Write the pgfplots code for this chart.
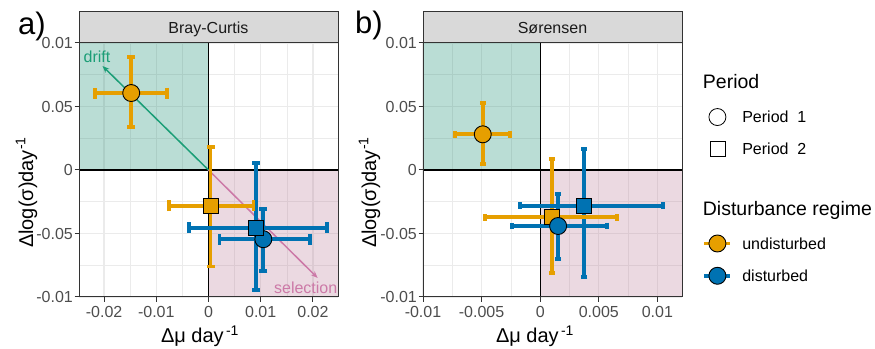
\documentclass[border=0pt]{standalone}
\usepackage{pgfplots}
\usepackage{pgfplotstable}
\pgfplotsset{compat=1.18}
\usepackage{fontspec}
\setmainfont{Liberation Sans}
\usetikzlibrary{arrows.meta}
\definecolor{colU}{HTML}{E69F00}
\definecolor{colD}{HTML}{0072B2}
\definecolor{driftc}{HTML}{1B9E77}
\definecolor{selc}{HTML}{CC79A7}
\definecolor{tealbase}{RGB}{28,142,115}
\definecolor{pinkbase}{RGB}{188,128,155}
\definecolor{gridc}{HTML}{EBEBEB}
\definecolor{borderc}{HTML}{333333}
\definecolor{tickc}{HTML}{4D4D4D}
\definecolor{stripc}{HTML}{D9D9D9}
\definecolor{stript}{HTML}{1A1A1A}
\newcommand\fs[1]{\fontsize{#1}{#1}\selectfont}

% panel a: Bray-Curtis (row 0 = Period 1, row 1 = Period 2)
\pgfplotstableread{
x y xp xm yp ym
-0.0148 0.0606 0.0069 0.0070 0.0284 0.0266
0.0004 -0.0281 0.0082 0.0079 0.0465 0.0479
}\aU
\pgfplotstableread{
x y xp xm yp ym
0.0105 -0.0545 0.0089 0.0084 0.0235 0.0248
0.0091 -0.0454 0.0136 0.0129 0.0507 0.0491
}\aD
% panel b: Sorensen
\pgfplotstableread{
x y xp xm yp ym
-0.0049 0.0281 0.00235 0.0024 0.0249 0.0234
0.0010 -0.0373 0.00552 0.00568 0.0457 0.0435
}\bU
\pgfplotstableread{
x y xp xm yp ym
0.00153 -0.0441 0.0042 0.00397 0.0252 0.0257
0.00377 -0.0281 0.00672 0.00547 0.0444 0.0559
}\bD

\pgfplotsset{
  panel/.style={
    scale only axis, width=259pt, height=254pt, anchor=south west,
    ymin=-0.1, ymax=0.1,
    ytick={-0.1,-0.05,0,0.05,0.1},
    yticklabels={\mbox{-0.01},\mbox{-0.05},\mbox{0},\mbox{0.05},\mbox{0.01}},
    minor ytick={-0.075,-0.025,0.025,0.075},
    grid=both,
    major grid style={draw=gridc, line width=1.3pt},
    minor grid style={draw=gridc, line width=0.65pt},
    axis line style={draw=borderc, line width=1pt},
    major tick style={draw=borderc, line width=1pt},
    minor tick length=0pt,
    tick align=outside, major tick length=4.5pt,
    tick pos=left,
    xticklabel style={font=\fs{16}, text=tickc, inner sep=0pt, yshift=-4.5pt},
    yticklabel style={font=\fs{16}, text=tickc, inner sep=0pt, xshift=-1.5pt},
    scaled ticks=false,
  },
  ebx/.style 2 args={draw=none, mark=none, forget plot,
    error bars/.cd, x dir=both, x explicit,
    error bar style={draw=#1, line width=3.8pt, solid},
    error mark options={rotate=90, draw=#1, mark size=#2, line width=3.8pt, solid}},
  eby/.style 2 args={draw=none, mark=none, forget plot,
    error bars/.cd, y dir=both, y explicit,
    error bar style={draw=#1, line width=3.8pt, solid},
    error mark options={rotate=90, draw=#1, mark size=#2, line width=3.8pt, solid}},
  ptc/.style={only marks, forget plot, mark=*, mark size=8.5pt, mark options={fill=#1, draw=black, line width=0.9pt}},
  pts/.style={only marks, forget plot, mark=square*, mark size=7.5pt, mark options={fill=#1, draw=black, line width=0.9pt}},
}
\newcommand\legbox{\path[draw=none, fill=none] (0pt,-8.5pt) rectangle (26pt,8.5pt);}

\begin{document}
\begin{tikzpicture}
\useasboundingbox (0,0) rectangle (875pt,348pt);

% ---------------- panel a ----------------
\begin{axis}[panel, at={(79pt,51pt)},
  xmin=-0.0248, xmax=0.0248,
  xtick={-0.02,-0.01,0,0.01,0.02},
  xticklabels={\mbox{-0.02},\mbox{-0.01},\mbox{0},\mbox{0.01},\mbox{0.02}},
  minor xtick={-0.015,-0.005,0.005,0.015}]
\fill[tealbase, fill opacity=0.3] (axis cs:-0.0248,0) rectangle (axis cs:0,0.1);
\fill[pinkbase, fill opacity=0.3] (axis cs:0,-0.1) rectangle (axis cs:0.0248,0);
\draw[black, line width=1.3pt] (axis cs:0,-0.1) -- (axis cs:0,0.1);
\draw[black, line width=1.3pt] (axis cs:-0.0248,0) -- (axis cs:0.0248,0);
\draw[driftc, line width=1.5pt, -{Stealth[length=7pt,width=5.5pt]}] (axis cs:0,0) -- (axis cs:-0.0203,0.0819);
\draw[selc, line width=1.5pt, -{Stealth[length=7pt,width=5.5pt]}] (axis cs:0,0) -- (axis cs:0.0209,-0.085);
\node[anchor=base west, text=driftc, font=\fs{16}, inner sep=0pt] at (axis cs:-0.02395,0.0843) {drift};
\node[anchor=base east, text=selc, font=\fs{16}, inner sep=0pt] at (axis cs:0.0247,-0.0969) {selection};
\addplot[eby={colU}{4pt}] table[x=x, y=y, y error plus=yp, y error minus=ym] {\aU};
\addplot[eby={colD}{4pt}] table[x=x, y=y, y error plus=yp, y error minus=ym] {\aD};
\addplot[ebx={colU}{5.5pt}] table[x=x, y=y, x error plus=xp, x error minus=xm] {\aU};
\addplot[ebx={colD}{5.5pt}] table[x=x, y=y, x error plus=xp, x error minus=xm] {\aD};
\addplot[ptc=colU, skip coords between index={1}{2}] table[x=x, y=y] {\aU};
\addplot[pts=colU, skip coords between index={0}{1}] table[x=x, y=y] {\aU};
\addplot[ptc=colD, skip coords between index={1}{2}] table[x=x, y=y] {\aD};
\addplot[pts=colD, skip coords between index={0}{1}] table[x=x, y=y] {\aD};
\end{axis}

% ---------------- panel b ----------------
\begin{axis}[panel, at={(423pt,51pt)},
  xmin=-0.01, xmax=0.0121,
  xtick={-0.01,-0.005,0,0.005,0.01},
  xticklabels={\mbox{-0.01},\mbox{-0.005},\mbox{0},\mbox{0.005},\mbox{0.01}},
  minor xtick={-0.0075,-0.0025,0.0025,0.0075},
  legend style={draw=none, fill=none, inner sep=0pt, outer sep=0pt,
    at={(axis description cs:1.0792,0.8672)}, anchor=north west,
    /tikz/column sep=10pt, /tikz/row sep=14.4pt,
    nodes={inner sep=0pt, text height=11.5pt, text depth=0pt, font=\fs{16}}},
  legend cell align=left]
\fill[tealbase, fill opacity=0.3] (axis cs:-0.01,0) rectangle (axis cs:0,0.1);
\fill[pinkbase, fill opacity=0.3] (axis cs:0,-0.1) rectangle (axis cs:0.0121,0);
\draw[black, line width=1.3pt] (axis cs:0,-0.1) -- (axis cs:0,0.1);
\draw[black, line width=1.3pt] (axis cs:-0.01,0) -- (axis cs:0.0121,0);
\addplot[eby={colU}{3pt}] table[x=x, y=y, y error plus=yp, y error minus=ym] {\bU};
\addplot[eby={colD}{3pt}] table[x=x, y=y, y error plus=yp, y error minus=ym] {\bD};
\addplot[ebx={colU}{3.3pt}] table[x=x, y=y, x error plus=xp, x error minus=xm] {\bU};
\addplot[ebx={colD}{3.3pt}] table[x=x, y=y, x error plus=xp, x error minus=xm] {\bD};
\addplot[ptc=colU, skip coords between index={1}{2}] table[x=x, y=y] {\bU};
\addplot[pts=colU, skip coords between index={0}{1}] table[x=x, y=y] {\bU};
\addplot[ptc=colD, skip coords between index={1}{2}] table[x=x, y=y] {\bD};
\addplot[pts=colD, skip coords between index={0}{1}] table[x=x, y=y] {\bD};

\addlegendimage{legend image code/.code={\legbox
  \node[overlay, anchor=base west, inner sep=0pt, font=\fs{19.5}, text=black] at (-1.5pt,-3.5pt) {Period};}}
\addlegendentry{}
\addlegendimage{legend image code/.code={\legbox
  \draw[black, line width=0.8pt, fill=none] (13pt,0pt) circle (8.5pt);}}
\addlegendentry{Period\ \ 1}
\addlegendimage{legend image code/.code={\legbox
  \draw[black, line width=0.8pt, fill=none] (5.5pt,-7.5pt) rectangle (20.5pt,7.5pt);}}
\addlegendentry{Period\ \ 2}
\addlegendimage{legend image code/.code={\legbox}}
\addlegendentry{}
\addlegendimage{legend image code/.code={\legbox
  \node[overlay, anchor=base west, inner sep=0pt, font=\fs{19.5}, text=black] at (-1.5pt,-3.5pt) {Disturbance regime};}}
\addlegendentry{}
\addlegendimage{legend image code/.code={\legbox
  \draw[colU, line width=3.8pt] (0pt,0pt) -- (26pt,0pt);
  \filldraw[fill=colU, draw=black, line width=0.9pt] (13pt,0pt) circle (8.5pt);}}
\addlegendentry{undisturbed}
\addlegendimage{legend image code/.code={\legbox
  \draw[colD, line width=3.8pt] (0pt,0pt) -- (26pt,0pt);
  \filldraw[fill=colD, draw=black, line width=0.9pt] (13pt,0pt) circle (8.5pt);}}
\addlegendentry{disturbed}
\end{axis}

% borders and strips
\draw[borderc, line width=1pt] (79pt,51pt) rectangle (338pt,305pt);
\draw[borderc, line width=1pt] (423pt,51pt) rectangle (682pt,305pt);
\draw[borderc, fill=stripc, line width=1pt] (79pt,305pt) rectangle (338pt,336pt);
\draw[borderc, fill=stripc, line width=1pt] (423pt,305pt) rectangle (682pt,336pt);
\node[text=stript, font=\fs{16}, inner sep=0pt, anchor=base] at (208.5pt,314.7pt) {Bray-Curtis};
\node[text=stript, font=\fs{16}, inner sep=0pt, anchor=base] at (552.5pt,314.7pt) {Sørensen};

% panel tags
\node[font=\fs{31}, inner sep=0pt, anchor=base west] at (18pt,313pt) {a)};
\node[font=\fs{31}, inner sep=0pt, anchor=base west] at (355pt,314pt) {b)};

% axis titles
\node[font=\fs{20}, inner sep=0pt, anchor=base] at (200pt,5.3pt) {Δμ day\textsuperscript{\,-1}};
\node[font=\fs{20}, inner sep=0pt, anchor=base] at (535pt,5.3pt) {Δμ day\textsuperscript{\,-1}};
\node[font=\fs{20}, inner sep=0pt, anchor=base, rotate=90] at (33pt,155.5pt) {Δlog(σ)day\textsuperscript{-1}};
\node[font=\fs{20}, inner sep=0pt, anchor=base, rotate=90] at (376pt,155.5pt) {Δlog(σ)day\textsuperscript{-1}};
\end{tikzpicture}
\end{document}
